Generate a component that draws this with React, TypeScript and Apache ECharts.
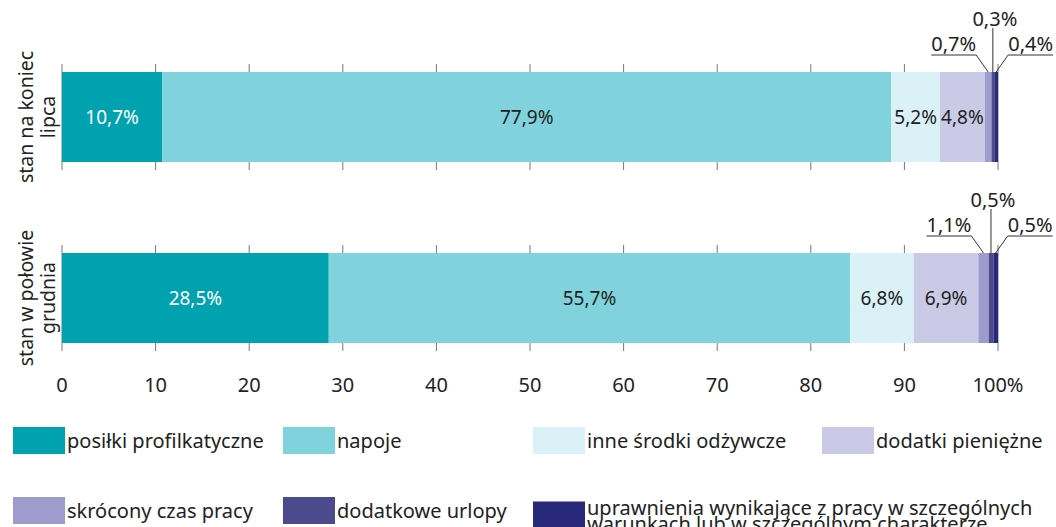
import React, { useEffect, useRef } from "react";
import * as echarts from "echarts";

const categories = ["stan na koniec\nlipca", "stan w połowie\ngrudnia"];
const seriesNames = [
  "posiłki profilkatyczne",
  "napoje",
  "inne środki odżywcze",
  "dodatki pieniężne",
  "skrócony czas pracy",
  "dodatkowe urlopy",
  "uprawnienia wynikające z pracy w szczególnych warunkach lub w szczególnym charakterze",
];
const posilki = [10.7, 28.5];
const napoje = [77.9, 55.7];
const inne = [5.2, 6.8];
const dodatki = [4.8, 6.9];
const skrocony = [0.7, 1.1];
const urlopy = [0.3, 0.5];
const uprawnienia = [0.4, 0.5];
const xTicks = [0, 10, 20, 30, 40, 50, 60, 70, 80, 90, 100];

const colors = ["#00A2AF", "#80D3DD", "#DAF1F8", "#CACAE6", "#9E9CCC", "#4B4A8D", "#29297C"];
const FONT = "'Noto Sans', sans-serif";

const fmt = (v: number) => v.toFixed(1).replace(".", ",") + "%";

export default function App() {
  const ref = useRef<HTMLDivElement>(null);
  useEffect(() => {
    const chart = echarts.init(ref.current!, null, { renderer: "svg" });
    const all = [posilki, napoje, inne, dodatki, skrocony, urlopy, uprawnienia];

    const barSeries = all.map((vals, i) => ({
      type: "bar",
      name: seriesNames[i],
      stack: "total",
      barWidth: 90,
      z: 3,
      data: vals,
      itemStyle: { color: colors[i] },
      label: {
        show: i < 4,
        position: "inside",
        formatter: (p: any) => fmt(p.value),
        fontSize: 19,
        fontFamily: FONT,
        color: i === 0 ? "#ffffff" : "#222222",
      },
      emphasis: { disabled: true },
    }));

    const tickData: number[][] = [];
    categories.forEach((_, ci) => xTicks.forEach((t) => tickData.push([t, ci])));

    const annData: number[][] = [];
    categories.forEach((_, ci) => {
      let start = 0;
      for (let s = 0; s < 4; s++) start += all[s][ci];
      [4, 5, 6].forEach((s, k) => {
        const v = all[s][ci];
        annData.push([start + v / 2, ci, v, k]);
        start += v;
      });
    });

    const option: any = {
      animation: false,
      color: colors,
      textStyle: { fontFamily: FONT },
      grid: { left: 62, right: 58, top: 26.5, height: 362 },
      xAxis: {
        type: "value",
        min: 0,
        max: 100,
        interval: 10,
        offset: -22,
        axisLine: { show: false },
        axisTick: { show: false },
        splitLine: { show: false },
        axisLabel: {
          fontSize: 20,
          fontFamily: FONT,
          color: "#222",
          formatter: (v: number) => (v === 100 ? "100%" : String(v)),
        },
      },
      yAxis: {
        type: "category",
        inverse: true,
        data: categories,
        axisLine: { show: false },
        axisTick: { show: false },
        axisLabel: {
          interval: 0,
          rotate: 90,
          fontSize: 19.5,
          lineHeight: 22,
          margin: 4,
          fontFamily: FONT,
          color: "#222",
        },
      },
      legend: [
        { i: 0, left: 13, top: 427 },
        { i: 1, left: 283, top: 427 },
        { i: 2, left: 533, top: 427 },
        { i: 3, left: 822, top: 427 },
        { i: 4, left: 13, top: 497 },
        { i: 5, left: 283, top: 497 },
        { i: 6, left: 533, top: 497 },
      ].map((l) => ({
        data: [seriesNames[l.i]],
        left: l.left,
        top: l.top,
        padding: 0,
        itemWidth: 52,
        itemHeight: 27,
        icon: "rect",
        selectedMode: false,
        formatter:
          l.i === 6
            ? () => "uprawnienia wynikające z pracy w szczególnych\nwarunkach lub w szczególnym charakterze"
            : undefined,
        textStyle: {
          fontSize: 20,
          lineHeight: 16,
          fontFamily: FONT,
          color: "#222",
          padding: [0, 0, 0, -3],
        },
      })),
      series: [
        ...barSeries,
        {
          type: "custom",
          z: 1,
          silent: true,
          encode: { x: 0, y: 1 },
          data: tickData,
          renderItem: (params: any, api: any) => {
            const p = api.coord([api.value(0), api.value(1)]);
            return {
              type: "line",
              shape: { x1: p[0], y1: p[1] - 53, x2: p[0], y2: p[1] + 53 },
              style: { stroke: "#777", lineWidth: 1 },
            };
          },
        },
        {
          type: "custom",
          z: 5,
          silent: true,
          encode: { x: 0, y: 1 },
          data: annData,
          renderItem: (params: any, api: any) => {
            const p = api.coord([api.value(0), api.value(1)]);
            const cx = p[0];
            const top = p[1] - 45;
            const pos = api.value(3);
            const text = fmt(api.value(2));
            const lineStyle = { stroke: "#333", lineWidth: 1, fill: null };
            const textStyle = (x: number, y: number) => ({
              text,
              x,
              y,
              align: "center",
              verticalAlign: "middle",
              fontSize: 20,
              fontFamily: FONT,
              fill: "#222",
            });
            if (pos === 1) {
              return {
                type: "group",
                children: [
                  { type: "line", shape: { x1: cx, y1: top, x2: cx, y2: top - 44 }, style: lineStyle },
                  { type: "text", style: textStyle(cx + 2, top - 54) },
                ],
              };
            }
            const dir = pos === 0 ? -1 : 1;
            const bx = cx + dir * 12;
            const by = top - 17;
            const ex = bx + dir * 45;
            return {
              type: "group",
              children: [
                {
                  type: "polyline",
                  shape: { points: [[cx, top], [bx, by], [ex, by]] },
                  style: lineStyle,
                },
                { type: "text", style: textStyle((bx + ex) / 2, by - 12) },
              ],
            };
          },
        },
      ],
    };
    chart.setOption(option);
    return () => chart.dispose();
  }, []);
  return (
    <div
      ref={ref}
      style={{ position: "fixed", left: 0, top: 0, width: 1056, height: 527, background: "#fff" }}
    />
  );
}
